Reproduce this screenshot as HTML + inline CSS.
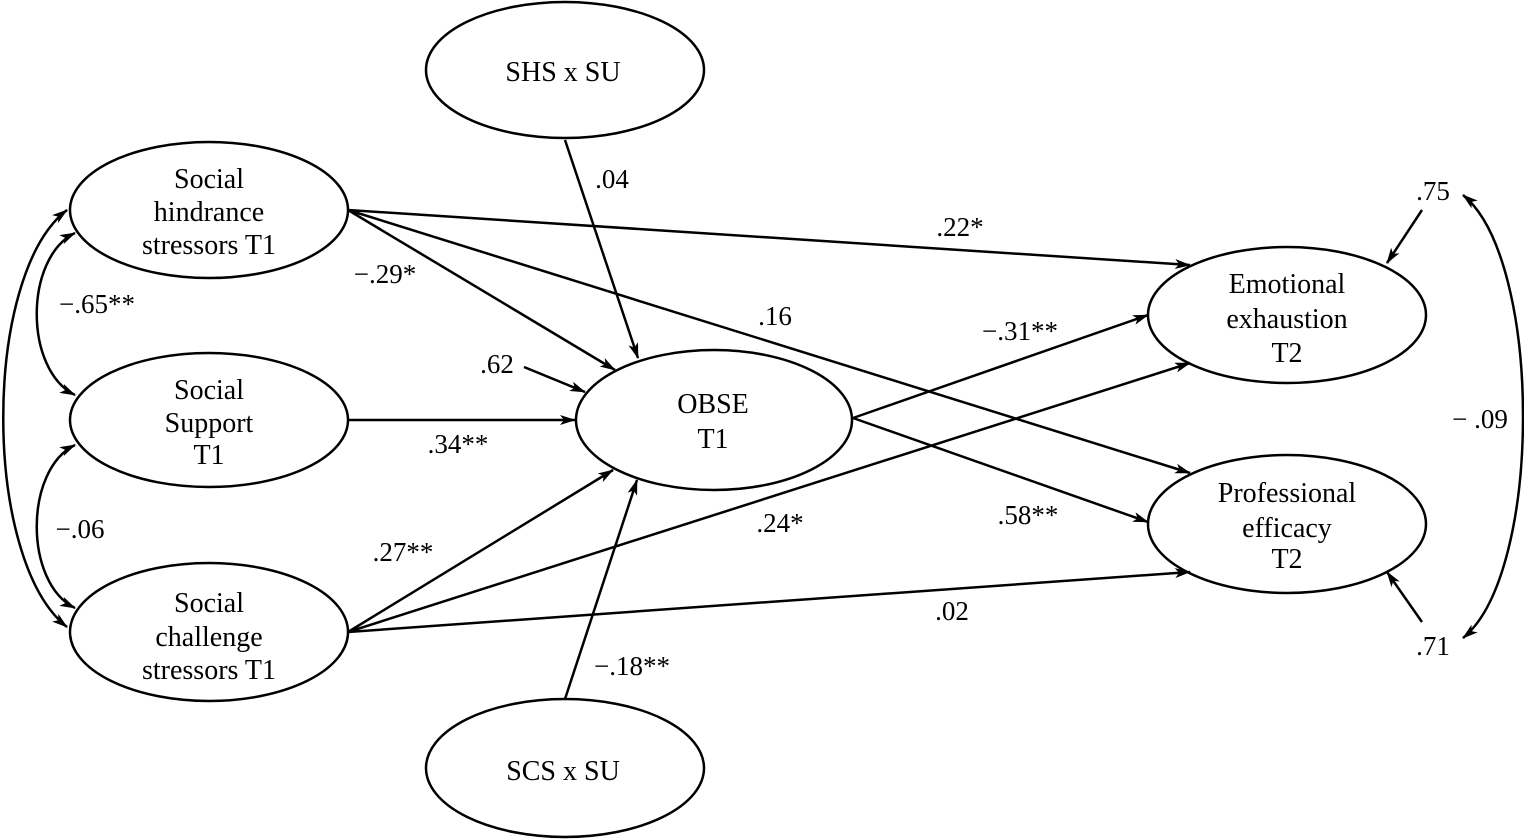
<!DOCTYPE html>
<html><head><meta charset="utf-8"><style>
html,body{margin:0;padding:0;background:#fff;}
svg{display:block;font-family:"Liberation Serif","DejaVu Serif",serif;}
text{font-family:"Liberation Serif","DejaVu Serif",serif;font-size:28px;fill:#000;}
text.l{font-size:27px;}
</style></head><body>
<svg width="1524" height="839" viewBox="0 0 1524 839" xmlns="http://www.w3.org/2000/svg" font-family="Liberation Serif, DejaVu Serif, serif">
<defs>
<marker id="a" viewBox="0 0 16 10" refX="15" refY="5" markerWidth="16" markerHeight="10" markerUnits="userSpaceOnUse" orient="auto-start-reverse">
<path d="M0,0 L16,5 L0,10 L4,5 z" fill="#000"/>
</marker>
</defs>
<g fill="none" stroke="#000" stroke-width="2.5">
<ellipse cx="565" cy="70" rx="139" ry="68"/>
<ellipse cx="209" cy="210" rx="139" ry="68"/>
<ellipse cx="209" cy="420" rx="139" ry="67"/>
<ellipse cx="209" cy="632" rx="139" ry="69"/>
<ellipse cx="714" cy="420" rx="138" ry="70"/>
<ellipse cx="1287" cy="315" rx="139" ry="68"/>
<ellipse cx="1287" cy="524" rx="139" ry="69"/>
<ellipse cx="565" cy="768" rx="139" ry="69"/>
</g>
<g stroke="#000" stroke-width="2.5" fill="none" marker-end="url(#a)">
<line x1="565" y1="140" x2="638" y2="358"/>
<line x1="348" y1="210" x2="615" y2="370"/>
<line x1="348" y1="210" x2="1190" y2="265"/>
<line x1="348" y1="210" x2="1190" y2="473"/>
<line x1="348" y1="420" x2="575" y2="420"/>
<line x1="524" y1="367" x2="585" y2="392"/>
<line x1="348" y1="632" x2="613" y2="470"/>
<line x1="348" y1="632" x2="1190" y2="363"/>
<line x1="348" y1="632" x2="1190" y2="572"/>
<line x1="565" y1="699" x2="637" y2="480"/>
<line x1="853" y1="418" x2="1148" y2="315"/>
<line x1="853" y1="418" x2="1148" y2="522"/>
<line x1="1422" y1="210" x2="1387" y2="263"/>
<line x1="1422" y1="622" x2="1387" y2="572"/>
</g>
<g stroke="#000" stroke-width="2.5" fill="none" marker-start="url(#a)" marker-end="url(#a)">
<path d="M67,210 C -18,275 -18,560 67,627"/>
<path d="M75,233 C 24,258 24,370 75,395"/>
<path d="M75,445 C 24,470 24,583 75,608"/>
<path d="M1463,195 C 1543,260 1543,573 1463,638"/>
</g>
<g text-anchor="middle">
<text x="563" y="81">SHS x SU</text>
<text x="563" y="780">SCS x SU</text>
<text x="209" y="188">Social</text>
<text x="209" y="221">hindrance</text>
<text x="209" y="254">stressors T1</text>
<text x="209" y="399">Social</text>
<text x="209" y="432">Support</text>
<text x="209" y="464">T1</text>
<text x="209" y="612">Social</text>
<text x="209" y="646">challenge</text>
<text x="209" y="679">stressors T1</text>
<text x="713" y="413">OBSE</text>
<text x="713" y="448">T1</text>
<text x="1287" y="293">Emotional</text>
<text x="1287" y="328">exhaustion</text>
<text x="1287" y="362">T2</text>
<text x="1287" y="502">Professional</text>
<text x="1287" y="537">efficacy</text>
<text x="1287" y="568">T2</text>
<text class="l" x="612" y="188">.04</text>
<text class="l" x="960" y="236">.22*</text>
<text class="l" x="385" y="283">−.29*</text>
<text class="l" x="775" y="325">.16</text>
<text class="l" x="1020" y="340">−.31**</text>
<text class="l" x="497" y="373">.62</text>
<text class="l" x="458" y="453">.34**</text>
<text class="l" x="780" y="532">.24*</text>
<text class="l" x="1028" y="524">.58**</text>
<text class="l" x="403" y="561">.27**</text>
<text class="l" x="952" y="620">.02</text>
<text class="l" x="632" y="675">−.18**</text>
<text class="l" x="97" y="313">−.65**</text>
<text class="l" x="80" y="538">−.06</text>
<text class="l" x="1433" y="200">.75</text>
<text class="l" x="1433" y="655">.71</text>
<text class="l" x="1480" y="428">− .09</text>
</g>
</svg>
</body></html>
